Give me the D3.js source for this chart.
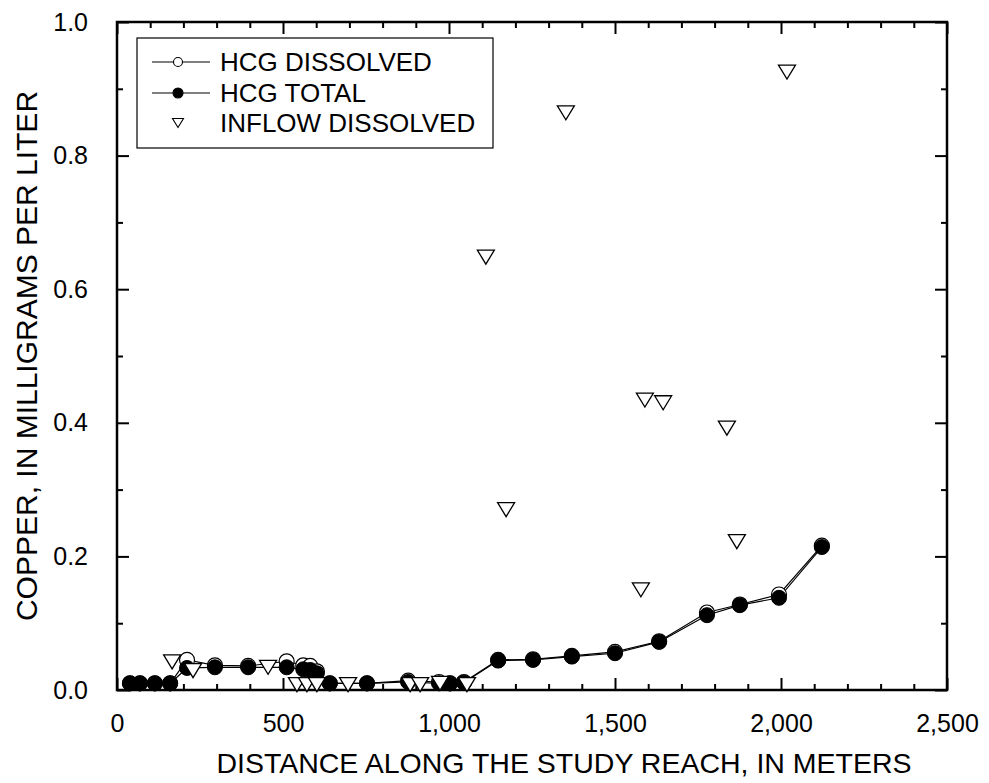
<!DOCTYPE html>
<html>
<head>
<meta charset="utf-8">
<script src="https://cdn.jsdelivr.net/npm/d3@7"></script>
<style>
  html, body { margin: 0; padding: 0; background: #fff; }
  svg { display: block; }
  text { font-family: "Liberation Sans", Arial, sans-serif; fill: #000; }
</style>
</head>
<body>
<div id="chart"></div>
<script>
// Copper concentrations along the study reach
const hcgDistance = [39, 69, 114, 160, 211, 295, 395, 511, 561, 582, 602, 641, 753, 877, 970, 1003, 1045, 1148, 1253, 1370, 1500, 1633, 1777, 1876, 1994, 2123];
const hcgTotal = [0.010, 0.010, 0.010, 0.010, 0.033, 0.034, 0.034, 0.034, 0.031, 0.030, 0.025, 0.010, 0.010, 0.012, 0.010, 0.010, 0.011, 0.044, 0.045, 0.050, 0.055, 0.072, 0.112, 0.127, 0.138, 0.214];
const hcgDissolved = [0.010, 0.010, 0.010, 0.010, 0.045, 0.037, 0.036, 0.043, 0.037, 0.036, 0.028, 0.010, 0.010, 0.014, 0.012, 0.010, 0.012, 0.045, 0.046, 0.051, 0.057, 0.073, 0.116, 0.128, 0.143, 0.216];

const inflowDistance = [166, 229, 455, 542, 572, 602, 696, 883, 913, 973, 1054, 1111, 1172, 1352, 1578, 1590, 1645, 1837, 1867, 2018];
const inflowDissolved = [0.042, 0.029, 0.034, 0.008, 0.008, 0.008, 0.008, 0.008, 0.008, 0.010, 0.008, 0.648, 0.270, 0.864, 0.150, 0.434, 0.430, 0.392, 0.222, 0.925];

const xMajorTicks = [0, 500, 1000, 1500, 2000, 2500];
const yMajorTicks = [0, 0.2, 0.4, 0.6, 0.8, 1.0];

const legendLabels = ["HCG DISSOLVED", "HCG TOTAL", "INFLOW DISSOLVED"];
const xTitle = "DISTANCE ALONG THE STUDY REACH, IN METERS";
const yTitle = "COPPER, IN MILLIGRAMS PER LITER";

const W = 989, H = 783;
const plot = { left: 117, right: 947, top: 22, bottom: 690 };

const svg = d3.select("#chart").append("svg")
  .attr("width", W).attr("height", H);

const x = d3.scaleLinear().domain([0, 2500]).range([plot.left, plot.right]);
const y = d3.scaleLinear().domain([0, 1]).range([plot.bottom, plot.top]);

const xMinor = d3.range(0, 2501, 100).filter(v => v % 500 !== 0);
const yMinor = d3.range(1, 10, 2).map(v => v / 10);

// Axes with inward-pointing ticks on all four sides
function styleAxis(g) {
  g.select(".domain").remove();
  g.selectAll(".tick line").attr("stroke", "#000").attr("stroke-width", 2);
  g.selectAll(".tick text").style("font-size", "25px").attr("fill", "#000");
}

const majorLen = 12, minorLen = 6;

svg.append("g").attr("transform", `translate(0,${plot.bottom})`)
  .call(d3.axisBottom(x).tickValues(xMajorTicks).tickSize(-majorLen).tickPadding(majorLen + 12).tickFormat(d3.format(",")))
  .call(styleAxis);
svg.append("g").attr("transform", `translate(0,${plot.bottom})`)
  .call(d3.axisBottom(x).tickValues(xMinor).tickSize(-minorLen).tickFormat(""))
  .call(styleAxis);
svg.append("g").attr("transform", `translate(0,${plot.top})`)
  .call(d3.axisTop(x).tickValues(xMajorTicks).tickSize(-majorLen).tickFormat(""))
  .call(styleAxis);
svg.append("g").attr("transform", `translate(0,${plot.top})`)
  .call(d3.axisTop(x).tickValues(xMinor).tickSize(-minorLen).tickFormat(""))
  .call(styleAxis);

svg.append("g").attr("transform", `translate(${plot.left},0)`)
  .call(d3.axisLeft(y).tickValues(yMajorTicks).tickSize(-majorLen).tickPadding(majorLen + 17).tickFormat(d3.format(".1f")))
  .call(styleAxis);
svg.append("g").attr("transform", `translate(${plot.left},0)`)
  .call(d3.axisLeft(y).tickValues(yMinor).tickSize(-minorLen).tickFormat(""))
  .call(styleAxis);
svg.append("g").attr("transform", `translate(${plot.right},0)`)
  .call(d3.axisRight(y).tickValues(yMajorTicks).tickSize(-majorLen).tickFormat(""))
  .call(styleAxis);
svg.append("g").attr("transform", `translate(${plot.right},0)`)
  .call(d3.axisRight(y).tickValues(yMinor).tickSize(-minorLen).tickFormat(""))
  .call(styleAxis);

// Frame
svg.append("rect")
  .attr("x", plot.left).attr("y", plot.top)
  .attr("width", plot.right - plot.left).attr("height", plot.bottom - plot.top)
  .attr("fill", "none").attr("stroke", "#000").attr("stroke-width", 2.5);

// Axis titles
svg.append("text")
  .attr("x", 564).attr("y", 773)
  .attr("text-anchor", "middle").style("font-size", "28.5px")
  .text(xTitle);
svg.append("text")
  .attr("transform", `translate(37,${(plot.top + plot.bottom) / 2}) rotate(-90)`)
  .attr("text-anchor", "middle").style("font-size", "30px")
  .text(yTitle);

// Series lines
const dissolvedPts = hcgDistance.map((d, i) => [d, hcgDissolved[i]]);
const totalPts = hcgDistance.map((d, i) => [d, hcgTotal[i]]);
const line = d3.line().x(d => x(d[0])).y(d => y(d[1]));

svg.append("path").datum(dissolvedPts)
  .attr("d", line).attr("fill", "none").attr("stroke", "#000").attr("stroke-width", 1.2);
svg.append("path").datum(totalPts)
  .attr("d", line).attr("fill", "none").attr("stroke", "#000").attr("stroke-width", 1.2);

// Markers
const R = 7.5;
svg.append("g").selectAll("circle").data(dissolvedPts).join("circle")
  .attr("cx", d => x(d[0])).attr("cy", d => y(d[1])).attr("r", R)
  .attr("fill", "#fff").attr("stroke", "#000").attr("stroke-width", 1.2);
svg.append("g").selectAll("circle").data(totalPts).join("circle")
  .attr("cx", d => x(d[0])).attr("cy", d => y(d[1])).attr("r", R)
  .attr("fill", "#000").attr("stroke", "#000").attr("stroke-width", 1);

function triPath(cx, cy, w, h) {
  return `M${cx - w / 2},${cy - h / 2}L${cx + w / 2},${cy - h / 2}L${cx},${cy + h / 2}Z`;
}
const inflowPts = inflowDistance.map((d, i) => [d, inflowDissolved[i]]);
svg.append("g").selectAll("path").data(inflowPts).join("path")
  .attr("d", d => triPath(x(d[0]), y(d[1]), 17, 14))
  .attr("fill", "#fff").attr("stroke", "#000").attr("stroke-width", 1.3)
  .attr("stroke-linejoin", "miter");

// Legend
const lg = svg.append("g");
lg.append("rect").attr("x", 137).attr("y", 38).attr("width", 356).attr("height", 110)
  .attr("fill", "#fff").attr("stroke", "#000").attr("stroke-width", 1.2);
const rowY = [62, 93, 123];
legendLabels.forEach((label, i) => {
  const cy = rowY[i];
  if (i < 2) {
    lg.append("line").attr("x1", 152).attr("x2", 210).attr("y1", cy).attr("y2", cy)
      .attr("stroke", "#000").attr("stroke-width", 1.2);
    lg.append("circle").attr("cx", 178).attr("cy", cy).attr("r", i === 0 ? 4.5 : 5)
      .attr("fill", i === 0 ? "#fff" : "#000").attr("stroke", "#000").attr("stroke-width", 1.1);
  } else {
    lg.append("path").attr("d", triPath(178, cy, 11, 9))
      .attr("fill", "#fff").attr("stroke", "#000").attr("stroke-width", 1.1);
  }
  lg.append("text").attr("x", 220).attr("y", cy + 9).style("font-size", "26px").text(label);
});
</script>
</body>
</html>
